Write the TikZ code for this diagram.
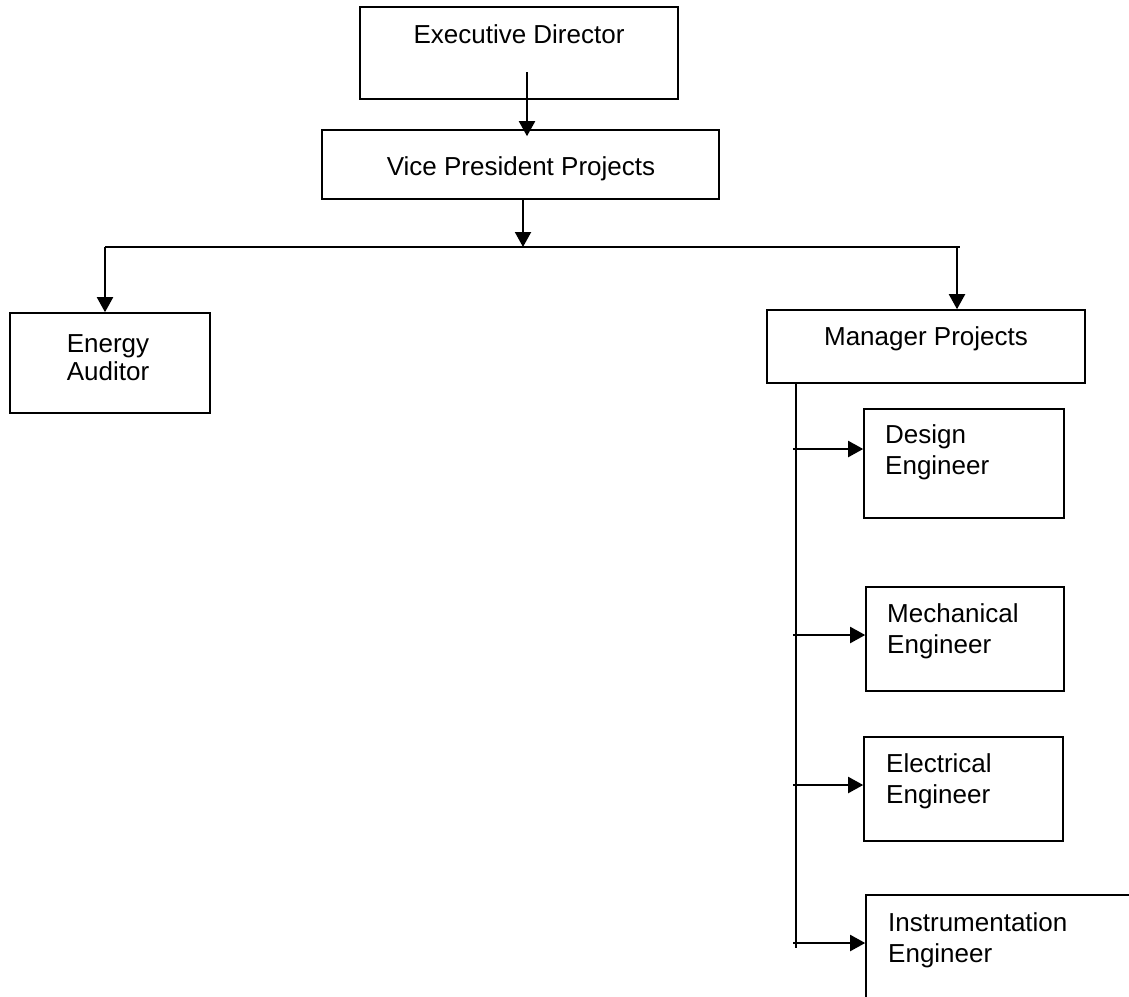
\documentclass[tikz,border=0pt]{standalone}
\usepackage{fontspec}
\setmainfont{Liberation Sans}
\usetikzlibrary{arrows.meta,calc}

\begin{document}
\begin{tikzpicture}[x=1pt,y=-1pt,
  box/.style={draw,line width=1.6pt,rectangle,inner sep=0pt},
  lbl/.style={inner sep=0pt,font=\fontsize{26}{31}\selectfont},
  arr/.style={line width=2pt,-{Triangle[length=15pt,width=16pt]}},
  ln/.style={line width=2pt}]
\clip (0,0) rectangle (1129,996);

\node[box,minimum width=318pt,minimum height=92pt] (ed) at (519,53) {};
\node[box,minimum width=397pt,minimum height=69pt] (vp) at (520.5,164.5) {};
\node[box,minimum width=200pt,minimum height=100pt] (ea) at (110,363) {};
\node[box,minimum width=318pt,minimum height=73pt] (mp) at (926,346.5) {};
\node[box,minimum width=200pt,minimum height=109pt] (de) at (964,463.5) {};
\node[box,minimum width=198pt,minimum height=104pt] (me) at (965,639) {};
\node[box,minimum width=199pt,minimum height=104pt] (ee) at (963.5,789) {};
\node[box,minimum width=300pt,minimum height=140pt] (ie) at (1016,965) {};

\node[lbl,anchor=base] (ed-t) at (519,43) {Executive Director};
\node[lbl,anchor=base] (vp-t) at (521,175) {Vice President Projects};
\node[lbl,anchor=north,align=center,font=\fontsize{26}{28}\selectfont] (ea-t) at (108,334) {Energy\\Auditor};
\node[lbl,anchor=base] (mp-t) at (926,345) {Manager Projects};
\node[lbl,anchor=north west,align=left] (de-t) at (885,424) {Design\\Engineer};
\node[lbl,anchor=north west,align=left] (me-t) at (887,603) {Mechanical\\Engineer};
\node[lbl,anchor=north west,align=left] (ee-t) at (886,753) {Electrical\\Engineer};
\node[lbl,anchor=north west,align=left] (ie-t) at (888,912) {Instrumentation\\Engineer};

\coordinate (ed-in) at (527,72);
\coordinate (bar-l) at (105,247);
\coordinate (bar-m) at (523,247);
\coordinate (bar-r) at (960,247);
\coordinate (drop-r) at (957,247);
\coordinate (trunk-end) at (796,948);

\draw[arr,shorten >=-7pt] (ed-in) -- (ed-in |- vp.north);
\draw[arr] (vp.south -| bar-m) -- (bar-m);
\draw[ln] (bar-l) -- (bar-r);
\draw[arr] (bar-l) -- (bar-l |- ea.north);
\draw[arr] (drop-r) -- (drop-r |- mp.north);
\draw[ln] (mp.south -| trunk-end) -- (trunk-end);
\foreach \n/\y in {de/449,me/635,ee/785,ie/943}{
  \coordinate (b-\n) at (793,\y);
  \draw[arr] (b-\n) -- (b-\n -| \n.west);
}

\end{tikzpicture}
\end{document}
